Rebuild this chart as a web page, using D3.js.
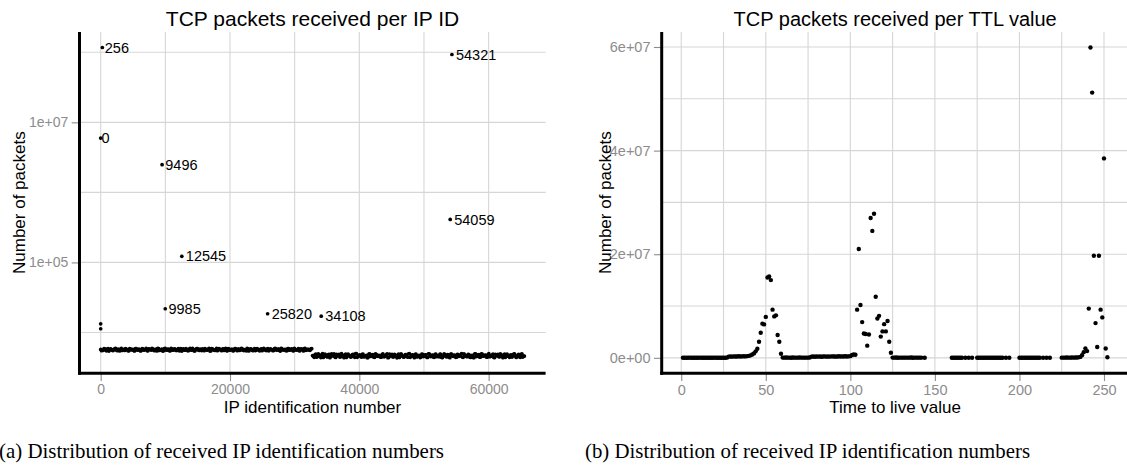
<!DOCTYPE html>
<html><head><meta charset="utf-8">
<script src="https://cdn.jsdelivr.net/npm/d3@7/dist/d3.min.js"></script>
<style>
body{margin:0;background:#fff;}
svg{display:block;font-family:"Liberation Sans",Arial,Helvetica,sans-serif;}
</style></head><body>
<svg id="chart" width="1127" height="471"></svg>
<script>
// ---------- Panel (a): packets per IP ID (log y) ----------
const labelIds    = [256, 54321, 0, 9496, 54059, 12545, 9985, 25820, 34108];
const labelCounts = [117000000, 93000000, 5970000, 2490000, 411000, 122000, 21800, 18500, 17100];
const extraIds    = [1, 2];
const extraCounts = [13300, 11300];
// dense band of the remaining IDs (sampled), below 32768
const bandLowIds = [3,130,
512,768,1024,1280,1536,1792,2048,2304,2560,2816,3072,3328,3584,3840,4096,4352,
4608,4864,5120,5376,5632,5888,6144,6400,6656,6912,7168,7424,7680,7936,8192,8448,
8704,8960,9216,9472,9728,9984,10240,10496,10752,11008,11264,11520,11776,12032,12288,12544,
12800,13056,13312,13568,13824,14080,14336,14592,14848,15104,15360,15616,15872,16128,16384,16640,
16896,17152,17408,17664,17920,18176,18432,18688,18944,19200,19456,19712,19968,20224,20480,20736,
20992,21248,21504,21760,22016,22272,22528,22784,23040,23296,23552,23808,24064,24320,24576,24832,
25088,25344,25600,25856,26112,26368,26624,26880,27136,27392,27648,27904,28160,28416,28672,28928,
29184,29440,29696,29952,30208,30464,30720,30976,31232,31488,31744,32000,32256,32512];
const bandLowCounts = [
5720,5480,5880,5610,5790,5430,5850,5560,5700,5920,5490,5660,5810,5540,5750,5880,
5620,5460,5830,5700,5520,5900,5640,5780,5450,5870,5600,5740,5510,5820,5680,5930,
5570,5760,5440,5860,5650,5800,5500,5910,5590,5720,5470,5840,5630,5770,5530,5890,
5690,5420,5850,5610,5760,5500,5940,5580,5730,5460,5880,5640,5800,5520,5710,5900,
5600,5780,5450,5860,5670,5540,5910,5620,5750,5480,5830,5690,5510,5870,5590,5760,
5440,5890,5650,5790,5530,5920,5610,5710,5470,5850,5660,5800,5500,5880,5580,5740,
5460,5840,5630,5770,5520,5900,5600,5730,5490,5860,5670,5810,5540,5930,5620,5700,
5480,5870,5590,5780,5510,5910,5640,5750,5460,5820,5680,5890,5560,5740,5610,5850];
const bandLowMidIds = [
384,640,896,1152,1408,1664,1920,2176,2432,2688,2944,3200,3456,3712,3968,4224,
4480,4736,4992,5248,5504,5760,6016,6272,6528,6784,7040,7296,7552,7808,8064,8320,
8576,8832,9088,9344,9600,9856,10112,10368,10624,10880,11136,11392,11648,11904,12160,12416,
12672,12928,13184,13440,13696,13952,14208,14464,14720,14976,15232,15488,15744,16000,16256,16512,
16768,17024,17280,17536,17792,18048,18304,18560,18816,19072,19328,19584,19840,20096,20352,20608,
20864,21120,21376,21632,21888,22144,22400,22656,22912,23168,23424,23680,23936,24192,24448,24704,
24960,25216,25472,25728,25984,26240,26496,26752,27008,27264,27520,27776,28032,28288,28544,28800,
29056,29312,29568,29824,30080,30336,30592,30848,31104,31360,31616,31872,32128,32384,32640];
const bandLowMidCounts = [
5560,5830,5470,5900,5650,5740,5510,5860,5600,5790,5450,5920,5680,5530,5810,
5490,5870,5620,5760,5440,5890,5580,5710,5520,5840,5660,5930,5470,5780,5610,
5850,5500,5730,5950,5540,5690,5420,5880,5640,5770,5480,5910,5590,5820,5530,
5750,5460,5860,5700,5570,5900,5510,5800,5630,5940,5450,5720,5870,5550,5680,
5830,5490,5760,5610,5920,5440,5850,5590,5710,5500,5890,5660,5780,5530,5940,
5470,5820,5640,5730,5560,5900,5480,5790,5620,5870,5510,5700,5930,5450,5840,
5580,5760,5520,5880,5650,5740,5490,5910,5600,5810,5460,5850,5690,5540,5920,
5570,5780,5430,5860,5630,5720,5500,5900,5660,5830,5470,5750,
5610,5880,5520,5790,5450,5910,5640,5730,5560,5860];
// dense band of IDs from 32768 upward (sampled)
const bandHighIds = [
32768,33024,33280,33536,33792,34048,34304,34560,34816,35072,35328,35584,35840,36096,36352,36608,
36864,37120,37376,37632,37888,38144,38400,38656,38912,39168,39424,39680,39936,40192,40448,40704,
40960,41216,41472,41728,41984,42240,42496,42752,43008,43264,43520,43776,44032,44288,44544,44800,
45056,45312,45568,45824,46080,46336,46592,46848,47104,47360,47616,47872,48128,48384,48640,48896,
49152,49408,49664,49920,50176,50432,50688,50944,51200,51456,51712,51968,52224,52480,52736,52992,
53248,53504,53760,54016,54272,54528,54784,55040,55296,55552,55808,56064,56320,56576,56832,57088,
57344,57600,57856,58112,58368,58624,58880,59136,59392,59648,59904,60160,60416,60672,60928,61184,
61440,61696,61952,62208,62464,62720,62976,63232,63488,63744,64000,64256,64512,64768,65024,65280,
65535];
const bandHighCounts = [
4680,4420,4920,4550,4810,4380,4990,4610,4740,4470,4880,4520,4700,4950,4400,4640,
4860,4500,4760,4360,4930,4590,4710,4450,4840,4620,4980,4410,4730,4560,4890,4480,
4650,4370,4910,4540,4790,4430,4960,4600,4720,4460,4850,4510,4690,4940,4390,4630,
4870,4490,4770,4350,4920,4580,4700,4440,4830,4610,4970,4420,4740,4550,4880,4470,
4660,4380,4900,4530,4800,4420,4950,4590,4730,4450,4860,4500,4680,4930,4400,4620,
4850,4480,4780,4360,4910,4570,4720,4430,4820,4600,4990,4410,4750,4540,4870,4460,
4670,4390,4940,4520,4780,4440,4970,4580,4710,4470,4840,4510,4700,4920,4380,4650,
4880,4490,4760,4370,4900,4560,4730,4420,4810,4620,4960,4400,4740,4530,4890,4450,
4600];
const bandHighMidIds = [
32896,33152,33408,33664,33920,34176,34432,34688,34944,35200,35456,35712,35968,36224,36480,36736,
36992,37248,37504,37760,38016,38272,38528,38784,39040,39296,39552,39808,40064,40320,40576,40832,
41088,41344,41600,41856,42112,42368,42624,42880,43136,43392,43648,43904,44160,44416,44672,44928,
45184,45440,45696,45952,46208,46464,46720,46976,47232,47488,47744,48000,48256,48512,48768,49024,
49280,49536,49792,50048,50304,50560,50816,51072,51328,51584,51840,52096,52352,52608,52864,53120,
53376,53632,53888,54144,54400,54656,54912,55168,55424,55680,55936,56192,56448,56704,56960,57216,
57472,57728,57984,58240,58496,58752,59008,59264,59520,59776,60032,60288,60544,60800,61056,61312,
61568,61824,62080,62336,62592,62848,63104,63360,63616,63872,64128,64384,64640,64896,65152,65408];
const bandHighMidCounts = [
4590,4850,4430,4960,4660,4770,4400,4900,4530,4820,4370,4940,4610,4480,4880,4700,
4450,4990,4570,4750,4390,4920,4640,4510,4860,4420,4980,4600,4790,4460,4910,4540,
4720,4380,4950,4620,4830,4410,4870,4560,4690,4440,4970,4520,4800,4360,4930,4650,
4470,4890,4580,4760,4400,4960,4630,4500,4840,4430,4990,4610,4780,4370,4920,4550,
4710,4450,4880,4600,4810,4390,4950,4530,4740,4420,4900,4670,4490,4860,4380,4970,
4580,4820,4440,4930,4620,4750,4410,4890,4560,4790,4460,4960,4640,4510,4850,4400,
4700,4370,4940,4590,4830,4480,4910,4620,4770,4430,4980,4550,4720,4390,4870,4660,
4500,4950,4610,4800,4420,4900,4570,4760,4450,4930,4630,4480,4860,4410,4970,4590];
const idXTicks = [0, 20000, 40000, 60000];
const idXMinor = [10000, 30000, 50000];
const idYTicks = [1e5, 1e7];
const idYMinor = [1e4, 1e6, 1e8];

// ---------- Panel (b): packets per TTL (linear y) ----------
const ttlValues = [
1,2,3,4,5,6,7,8,9,10,11,12,13,14,15,16,17,18,19,20,21,22,23,24,25,26,27,
28,29,30,31,32,33,34,35,36,37,38,39,40,
41,42,43,44,45,46,47,48,49,50,51,52,53,54,55,56,57,58,59,
60,61,62,63,64,65,66,67,68,69,70,71,72,73,74,75,76,
77,78,79,80,81,82,83,84,85,86,87,88,89,90,91,92,93,94,95,96,97,98,99,100,
101,102,103,104,105,106,107,108,109,110,111,112,113,114,115,116,117,118,119,120,121,122,123,124,
125,126,127,128,129,130,131,132,133,134,135,136,137,138,139,140,141,142,
144,
160,161,162,163,164,165,166,168,170,172,
175,176,177,178,179,180,181,182,183,184,185,186,187,188,189,190,192,194,
200,201,202,203,204,205,206,207,208,209,210,211,212,214,216,218,
225,226,227,228,229,230,231,232,233,234,235,236,
237,238,239,240,241,242,243,244,245,246,247,248,249,250,251,252];
const ttlCounts = [
28000,15000,22000,9000,31000,12000,18000,26000,11000,20000,34000,14000,17000,25000,8000,29000,13000,21000,16000,30000,10000,24000,19000,27000,12000,23000,33000,
240000,260000,230000,280000,250000,270000,300000,260000,290000,310000,280000,330000,380000,
480000,650000,850000,1250000,1750000,3100000,4850000,6600000,6450000,7900000,15500000,15700000,15000000,9300000,8000000,8200000,4400000,3100000,800000,
45000,30000,52000,38000,41000,27000,49000,35000,44000,31000,56000,40000,33000,47000,36000,42000,60000,
230000,250000,220000,260000,240000,270000,210000,250000,280000,230000,260000,240000,290000,250000,270000,230000,300000,260000,280000,250000,310000,270000,290000,320000,
550000,650000,600000,9300000,21000000,10200000,6900000,4700000,4600000,2350000,4500000,27000000,24500000,27800000,11800000,7600000,8100000,4100000,5100000,6500000,5100000,7100000,3100000,980000,
42000,35000,51000,28000,46000,39000,33000,48000,30000,44000,37000,52000,29000,41000,34000,47000,38000,31000,
26000,
18000,24000,15000,21000,12000,27000,19000,14000,22000,16000,
20000,13000,25000,17000,23000,11000,28000,16000,21000,14000,26000,19000,12000,24000,18000,22000,15000,20000,
17000,23000,12000,26000,19000,15000,28000,21000,13000,24000,18000,25000,14000,22000,16000,20000,
30000,45000,38000,52000,41000,36000,49000,44000,58000,62000,90000,180000,
500000,1100000,1800000,1300000,9500000,59900000,51200000,19700000,6700000,2100000,19700000,9300000,7800000,38500000,1800000,120000];
const ttlXTicks = [0, 50, 100, 150, 200, 250];
const ttlXMinor = [25, 75, 125, 175, 225];
const ttlYTicks = [0, 2e7, 4e7, 6e7];
const ttlYMinor = [1e7, 3e7, 5e7];

const titles = ["TCP packets received per IP ID", "TCP packets received per TTL value"];
const xTitles = ["IP identification number", "Time to live value"];
const yTitle = "Number of packets";
const captions = ["(a) Distribution of received IP identification numbers",
                  "(b) Distribution of received IP identification numbers"];

// ---------- drawing ----------
const svg = d3.select("#chart");
const GRID = "#d6d6d6", TICKC = "#8c8c8c";
function expFmt(v){
  const s = v.toExponential(0).split("e");
  const sign = s[1][0], d = s[1].slice(1).padStart(2, "0");
  return s[0] + "e" + sign + d;
}
function zip(a, b){ const n = Math.min(a.length, b.length); const r=[]; for(let i=0;i<n;i++) r.push([a[i], b[i]]); return r; }

function panel(o){
  const g = svg.append("g");
  const gx = o.x.range(), gy = o.y.range();
  g.append("g").selectAll("line").data(o.xGrid).join("line")
    .attr("x1", d=>o.x(d)).attr("x2", d=>o.x(d)).attr("y1", gy[0]).attr("y2", gy[1])
    .attr("stroke", GRID).attr("stroke-width", 1.1);
  g.append("g").selectAll("line").data(o.yGrid).join("line")
    .attr("y1", d=>o.y(d)).attr("y2", d=>o.y(d)).attr("x1", gx[0]).attr("x2", gx[1])
    .attr("stroke", GRID).attr("stroke-width", 1.1);
  const ax = g.append("g").attr("transform", `translate(0,${gy[0]})`)
    .call(d3.axisBottom(o.x).tickValues(o.xTicks).tickFormat(d3.format("d")).tickSize(7.8).tickPadding(3.2));
  const ay = g.append("g").attr("transform", `translate(${gx[0]},0)`)
    .call(d3.axisLeft(o.y).tickValues(o.yTicks).tickFormat(expFmt).tickSize(7.8).tickPadding(3.4));
  [ax, ay].forEach(a => {
    a.select(".domain").remove();
    a.selectAll("line").attr("stroke", TICKC).attr("stroke-width", 1.1);
    a.selectAll("text").attr("fill", TICKC).style("font-size", o.tickFont + "px").style("font-family", "Liberation Sans, Arial, sans-serif");
  });
  g.append("line").attr("x1", gx[0]).attr("x2", gx[0]).attr("y1", gy[1]).attr("y2", gy[0]+1.5)
    .attr("stroke", "#000").attr("stroke-width", 3);
  g.append("line").attr("x1", gx[0]-1.5).attr("x2", gx[1]).attr("y1", gy[0]).attr("y2", gy[0])
    .attr("stroke", "#000").attr("stroke-width", 3);
  g.append("g").selectAll("circle").data(o.points).join("circle")
    .attr("cx", d=>o.x(d[0])).attr("cy", d=>o.y(d[1])).attr("r", o.r).attr("fill", "#000");
  const cx = (gx[0] + gx[1]) / 2;
  g.append("text").attr("x", cx).attr("y", 26).attr("text-anchor", "middle")
    .style("font-size", o.titleFont + "px").text(o.title);
  g.append("text").attr("x", cx).attr("y", 413).attr("text-anchor", "middle")
    .style("font-size", "17px").text(o.xTitle);
  const cy = (gy[0] + gy[1]) / 2;
  g.append("text").attr("transform", `translate(${o.yTitleX},${cy}) rotate(-90)`)
    .attr("text-anchor", "middle").style("font-size", "17px").text(yTitle);
  return g;
}

// Panel (a)
const idPoints = [...zip(bandLowIds, bandLowCounts), ...zip(bandLowMidIds, bandLowMidCounts),
                  ...zip(bandHighIds, bandHighCounts), ...zip(bandHighMidIds, bandHighMidCounts),
                  ...zip(extraIds, extraCounts), ...zip(labelIds, labelCounts)];
const idExt = d3.extent(idPoints, d=>d[0]);
const idPad = (idExt[1] - idExt[0]) * 0.05;
const xA = d3.scaleLinear().domain([idExt[0]-idPad, idExt[1]+idPad]).range([79.5, 545.6]);
const lgExt = d3.extent(idPoints, d=>Math.log10(d[1]));
const lgPad = (lgExt[1] - lgExt[0]) * 0.05;
const yA = d3.scaleLog().domain([10**(lgExt[0]-lgPad), 10**(lgExt[1]+lgPad)]).range([373.3, 32]);
const gA = panel({x:xA, y:yA, xGrid:[...idXTicks, ...idXMinor], yGrid:[...idYTicks, ...idYMinor],
  xTicks:idXTicks, yTicks:idYTicks, points:idPoints, r:1.85, title:titles[0], xTitle:xTitles[0],
  yTitleX:25, titleFont:21, tickFont:14});
const lab = gA.append("g").selectAll("text").data(zip(labelIds, labelCounts)).join("text")
  .attr("y", d=>yA(d[1])).attr("dy", "0.35em").style("font-size", "14.5px").attr("fill", "#000")
  .text(d=>String(d[0]));
lab.attr("x", function(d){ return xA(d[0]) + 0.1 * this.getComputedTextLength(); });

// Panel (b)
const ttlPoints = zip(ttlValues, ttlCounts);
const tExt = d3.extent(ttlPoints, d=>d[0]);
const tPad = (tExt[1] - tExt[0]) * 0.05;
const xB = d3.scaleLinear().domain([tExt[0]-tPad, tExt[1]+tPad]).range([661.7, 1128.6]);
const cExt = d3.extent(ttlPoints, d=>d[1]);
const cPad = (cExt[1] - cExt[0]) * 0.05;
const yB = d3.scaleLinear().domain([cExt[0]-cPad, cExt[1]+cPad]).range([373.3, 32]);
panel({x:xB, y:yB, xGrid:[...ttlXTicks, ...ttlXMinor], yGrid:[...ttlYTicks, ...ttlYMinor],
  xTicks:ttlXTicks, yTicks:ttlYTicks, points:ttlPoints, r:2.2, title:titles[1], xTitle:xTitles[1],
  yTitleX:611, titleFont:20, tickFont:14.5});

// captions (condensed serif look)
svg.selectAll("text.cap").data(captions).join("text").attr("class", "cap")
  .attr("x", (d,i)=> i===0 ? -1 : 585).attr("y", 458)
  .attr("textLength", 445).attr("lengthAdjust", "spacingAndGlyphs")
  .style("font-family", "Liberation Serif, Times New Roman, serif").style("font-size", "22px")
  .attr("fill", "#000").text(d=>d);
</script>
</body></html>
